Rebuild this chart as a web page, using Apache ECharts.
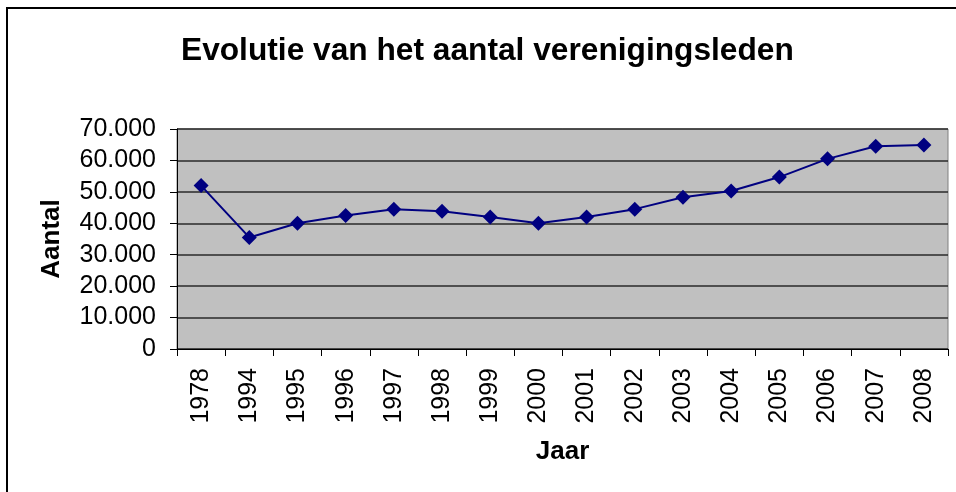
<!DOCTYPE html>
<html>
<head>
<meta charset="utf-8">
<script src="https://cdn.jsdelivr.net/npm/echarts@6/dist/echarts.min.js"></script>
<style>
  html, body { margin: 0; padding: 0; background: #fff; }
  #main { width: 956px; height: 492px; }
</style>
</head>
<body>
<div id="main"></div>
<script>
// data
const jaren = ['1978', '1994', '1995', '1996', '1997', '1998', '1999', '2000',
  '2001', '2002', '2003', '2004', '2005', '2006', '2007', '2008']
const leden = [52000, 35500, 40000, 42500, 44500, 43800, 42000, 40000,
  42000, 44500, 48300, 50300, 54700, 60500, 64500, 64900]

const chart = echarts.init(document.getElementById('main'))

// 70000 -> 70.000
const fmt = v => String(v).replace(/\B(?=(\d{3})+(?!\d))/g, '.')

const option = {
  animation: false,
  textStyle: { fontFamily: 'Liberation Sans, Arial, sans-serif', color: '#000' },
  title: {
    text: 'Evolutie van het aantal verenigingsleden',
    left: 176,
    top: 30,
    textStyle: { fontSize: 31.7, fontWeight: 'bold', color: '#000' }
  },
  graphic: [{
    type: 'rect',
    shape: { x: 7, y: 8, width: 1000, height: 1000 },
    style: { fill: 'none', stroke: '#000', lineWidth: 2 },
    silent: true
  }],
  grid: {
    left: 177, right: 8, top: 129, bottom: 143,
    show: true,
    backgroundColor: '#c0c0c0',
    borderColor: '#808080',
    borderWidth: 1
  },
  xAxis: {
    type: 'category',
    data: jaren,
    boundaryGap: true,
    name: 'Jaar',
    nameLocation: 'middle',
    nameGap: 90,
    nameTextStyle: { fontSize: 26, fontWeight: 'bold', color: '#000' },
    axisLine: { lineStyle: { color: '#000', width: 1 } },
    axisTick: { show: true, length: 7, alignWithLabel: false, lineStyle: { color: '#000' } },
    axisLabel: { rotate: 90, fontSize: 25, color: '#000', margin: 19 },
    splitLine: { show: false }
  },
  yAxis: {
    type: 'value',
    min: 0,
    max: 70000,
    interval: 10000,
    name: 'Aantal',
    nameLocation: 'middle',
    nameGap: 112,
    nameTextStyle: { fontSize: 26, fontWeight: 'bold', color: '#000' },
    axisLine: { show: true, lineStyle: { color: '#000', width: 1 } },
    axisTick: { show: true, length: 7, lineStyle: { color: '#000' } },
    axisLabel: { fontSize: 25, color: '#000', margin: 21, formatter: fmt },
    splitLine: { show: true, lineStyle: { color: '#2a2a2a', width: 1.5 } }
  },
  series: [{
    type: 'line',
    data: leden,
    symbol: 'diamond',
    symbolSize: 15,
    itemStyle: { color: '#000080' },
    lineStyle: { color: '#000080', width: 2 }
  }]
}

chart.setOption(option)
</script>
</body>
</html>
